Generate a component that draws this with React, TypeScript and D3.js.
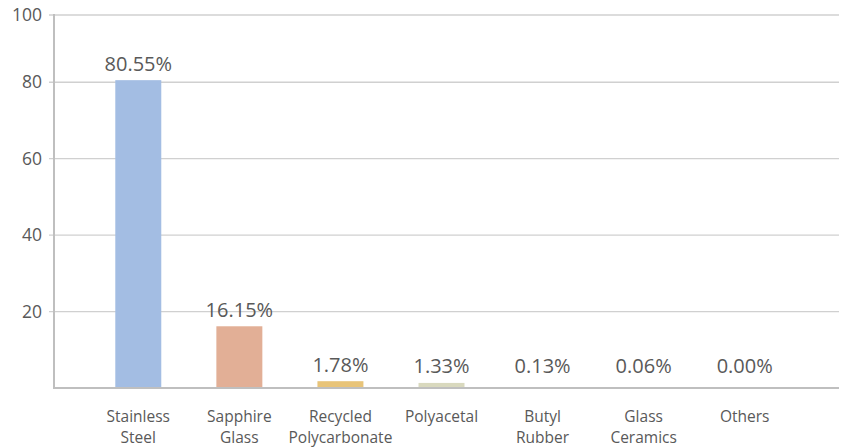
import React from "react";
import * as d3 from "d3";

const categories: string[][] = [
  ["Stainless", "Steel"],
  ["Sapphire", "Glass"],
  ["Recycled", "Polycarbonate"],
  ["Polyacetal"],
  ["Butyl", "Rubber"],
  ["Glass", "Ceramics"],
  ["Others"],
];
const values: number[] = [80.55, 16.15, 1.78, 1.33, 0.13, 0.06, 0.0];
const barColors: string[] = ["#A3BDE3", "#E2AF96", "#E8C479", "#D9D9BE", "#E9C3CA", "#D9BFCB", "#CFCFCF"];
const yTicks: number[] = [20, 40, 60, 80];
const yMax = 97.6;
const yTopLabel = "100";

const W = 844;
const H = 448;
const left = 54;
const right = 839;
const top = 15;
const bottom = 388;

export default function App() {
  const x = d3
    .scaleBand<number>()
    .domain(values.map((_, i) => i))
    .range([88, 795])
    .paddingInner(0.545)
    .paddingOuter(0.27);
  const y = d3.scaleLinear().domain([0, yMax]).range([bottom, top]);
  const font = "'Open Sans', 'Noto Sans', sans-serif";
  const textColor = "#595959";

  return (
    <svg width={W} height={H} style={{ position: "absolute", left: 0, top: 0, background: "#fff" }} fontFamily={font}>
      {yTicks.map((t) => (
        <line key={"g" + t} x1={left - 5} x2={right} y1={y(t)} y2={y(t)} stroke="#D0D0D0" strokeWidth={1.3} />
      ))}
      <line x1={left - 5} x2={right} y1={y(yMax)} y2={y(yMax)} stroke="#D0D0D0" strokeWidth={1.3} />
      {yTicks.map((t) => (
        <text key={"t" + t} x={42} y={y(t)} dy="0.35em" textAnchor="end" fontSize={17.5} fill={textColor}>
          {t}
        </text>
      ))}
      <text x={42} y={y(yMax)} dy="0.35em" textAnchor="end" fontSize={17.5} fill={textColor}>
        {yTopLabel}
      </text>
      {values.map((v, i) => {
        const bx = x(i)!;
        const by = y(v);
        const ly = Math.min(by - 9, bottom - 15);
        return (
          <g key={"b" + i}>
            <rect x={bx} y={by} width={x.bandwidth()} height={Math.max(bottom - by, 0.8)} fill={barColors[i]} />
            <text x={bx + x.bandwidth() / 2} y={ly} textAnchor="middle" fontSize={20} fill={textColor}>
              {v.toFixed(2) + "%"}
            </text>
          </g>
        );
      })}
      <line x1={left} x2={left} y1={top - 1} y2={bottom + 1} stroke="#BFBFBF" strokeWidth={2} />
      <line x1={left - 1} x2={right} y1={bottom} y2={bottom} stroke="#BFBFBF" strokeWidth={2} />
      {categories.map((lines, i) => (
        <text key={"c" + i} x={x(i)! + x.bandwidth() / 2} textAnchor="middle" fontSize={15.5} fill={textColor}>
          {lines.map((l, j) => (
            <tspan key={j} x={x(i)! + x.bandwidth() / 2} y={422 + j * 21}>
              {l}
            </tspan>
          ))}
        </text>
      ))}
    </svg>
  );
}
